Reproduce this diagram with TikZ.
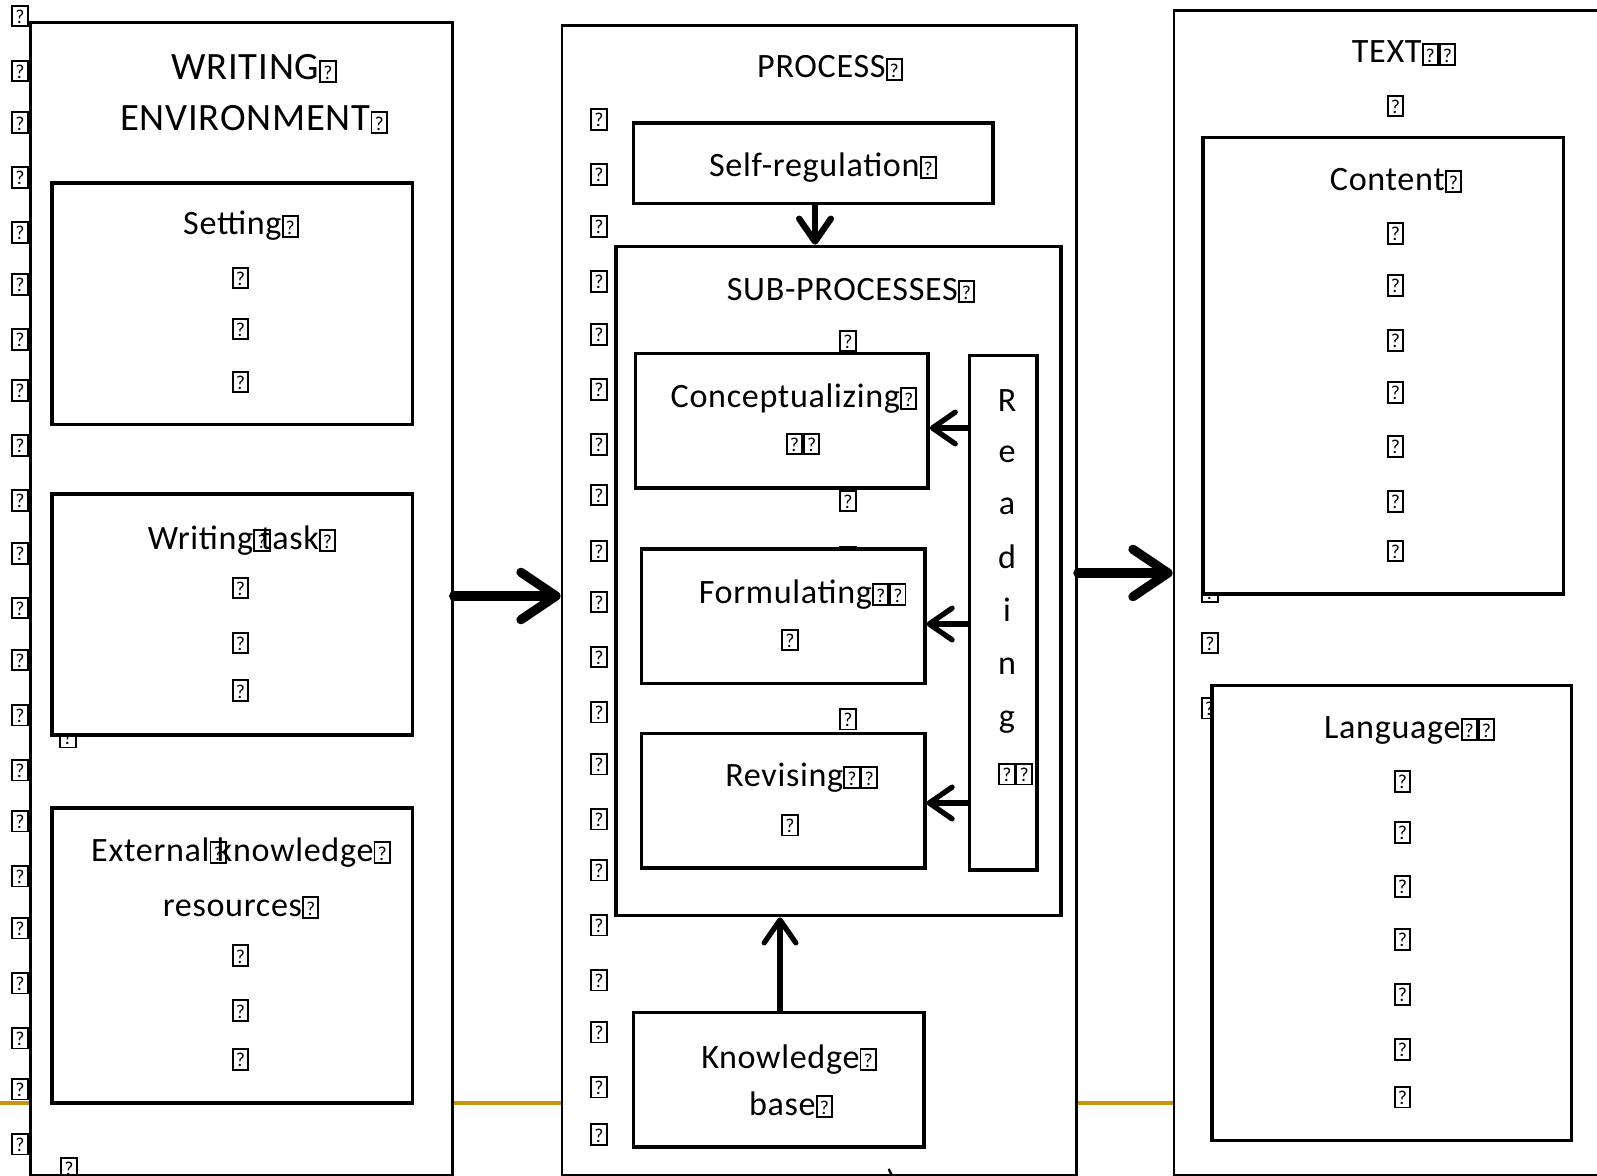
\documentclass[tikz,border=0pt]{standalone}
\usepackage{fontspec}
\setmainfont{Carlito}[LetterSpace=2]
\usetikzlibrary{arrows.meta,fit}
\definecolor{gold}{RGB}{200,150,10}
\newcommand\qb{\raisebox{-0.4pt}{\setlength{\fboxsep}{0pt}\setlength{\fboxrule}{0.55pt}\fbox{\makebox[3.8pt][c]{\rule{0pt}{5.4pt}\raisebox{0.5pt}{\fontsize{5.6}{5.6}\selectfont ?}}}}}
\begin{document}
\begin{tikzpicture}[x=0.01cm,y=-0.01cm,
  outerbox/.style={draw, line width=0.8pt, fill=white, inner sep=0pt},
  box/.style={draw, line width=1pt, fill=white, inner sep=0pt},
  lbl/.style={font=\fontsize{9.7}{11}\selectfont, inner sep=0pt, anchor=base},
  biglbl/.style={font=\fontsize{11}{13}\selectfont, inner sep=0pt, anchor=base},
  qm/.style={inner sep=0pt, anchor=center},
  bigarrow/.style={line width=2.6pt, line cap=round, -{Straight Barb[length=10pt,width=13.5pt,round]}},
  midarrow/.style={line width=1.8pt, line cap=round, -{Straight Barb[length=6.5pt,width=9pt,round]}},
  smallarrow/.style={line width=1.5pt, line cap=round, -{Straight Barb[length=6.5pt,width=9pt,round]}},
]
\useasboundingbox (0,0) rectangle (1597,1176);
\fill[white] (0,0) rectangle (1597,1176);
\coordinate (gl) at (0,1103);
\coordinate (gr) at (1597,1103);
\draw[gold, line width=1.4pt] (gl) -- (gr);

% outer boxes
\node[outerbox, fit={(30.6,22.4) (452.2,1175)}] (we) {};
\node[outerbox, fit={(562,25.5) (1076.5,1175)}] (proc) {};
\node[outerbox, fit={(1174,10.5) (1605,1175)}] (txt) {};

% left column of placeholders
\foreach \yy [count=\i] in {16,71,122.5,177.2,232.2,284.2,339.2,390.1,445.1,500.1,553.1,608,660,715,770,821,876,928,983,1038,1089,1144}
  \node[qm] (lq\i) at (20,\yy) {\qb};

% ---- writing environment ----
\node[biglbl] (weA) at (254,80) {WRITING\qb};
\node[biglbl] (weB) at (254,131) {ENVIRONMENT\qb};
\node[box, fit={(52,183) (412.5,424.7)}] (setting) {};
\node[lbl] (setT) at (241,235) {Setting\qb};
\foreach \yy [count=\i] in {278,329,382}
  \node[qm] (sq\i) at (240.4,\yy) {\qb};
\node[qm] (wpart) at (68,737) {\qb};
\node[box, fit={(52,494) (412.5,735)}] (wtask) {};
\node[lbl] (wtT) at (242,549) {Writing\qb\kern-2.8pt task\qb};
\foreach \yy [count=\i] in {588,643,690.5}
  \node[qm] (wq\i) at (240.4,\yy) {\qb};
\node[box, fit={(52,808) (412.5,1103)}] (ext) {};
\node[lbl] (exA) at (241,861) {External\qb\kern-2.8pt knowledge\qb};
\node[lbl] (exB) at (241,916) {resources\qb};
\foreach \yy [count=\i] in {955.4,1010.3,1059.2}
  \node[qm] (eq\i) at (240.4,\yy) {\qb};
\node[qm] (wbot) at (69,1168) {\qb};

% ---- process ----
\node[lbl] (procT) at (830,78) {PROCESS\qb};
\foreach \yy [count=\i] in {119.2,174.2,226.1,281.1,334.1,389.1,444.1,495,551,602,657,712,764,819,870,925,980,1032,1087,1134.6}
  \node[qm] (mq\i) at (599,\yy) {\qb};
\node[box, fit={(633.5,123) (993,203.7)}] (selfreg) {};
\node[lbl] (srT) at (823,176) {Self-regulation\qb};
\node[box, fit={(616,246.5) (1061,915.6)}] (sub) {};
\node[lbl] (subT) at (851,300) {SUB-PROCESSES\qb};
\node[qm] (sub1) at (848,341) {\qb};
\node[qm] (sub2) at (848,501) {\qb};
\node[qm] (subh) at (848,557) {\qb};
\node[qm] (sub3) at (848,719) {\qb};
\node[box, fit={(635.5,353.4) (928,488)}] (concept) {};
\node[lbl] (coT) at (794,407) {Conceptualizing\qb};
\node[qm] (coQ) at (803,444) {\qb\qb};
\node[box, fit={(641.7,549) (924.8,683.4)}] (formul) {};
\node[lbl] (foT) at (802.6,603) {Formulating\qb\qb};
\node[qm] (foQ) at (790,640) {\qb};
\node[box, fit={(641.7,733.3) (924.8,867.8)}] (revis) {};
\node[lbl] (reT) at (801.5,786) {Revising\qb\qb};
\node[qm] (reQ) at (790,825) {\qb};
\node[box, fit={(969.6,355.5) (1036.8,869.8)}] (reading) {};
\foreach \ch/\yy [count=\i] in {R/411,e/462,a/514,d/568,i/621,n/674,g/727}
  \node[lbl] (rd\i) at (1007,\yy) {\ch};
\node[qm] (rdQ) at (1015.5,774) {\qb\qb};
\draw[midarrow] (selfreg.south -| 815,0) -- (sub.north -| 815,0);
\draw[smallarrow] (reading.west |- 0,428) -- (concept.east |- 0,428);
\draw[smallarrow] (reading.west |- 0,624) -- (formul.east |- 0,624);
\draw[smallarrow] (reading.west |- 0,803) -- (revis.east |- 0,803);
\node[box, fit={(633.5,1012.4) (923.8,1146.8)}] (kb) {};
\node[lbl] (kbA) at (789,1068) {Knowledge\qb};
\node[lbl] (kbB) at (791,1115) {base\qb};
\draw[smallarrow] (kb.north -| 780,0) -- (sub.south -| 780,0);
\node[qm] (frag) at (880,1184) {\qb\,)};

% ---- text ----
\node[lbl] (txT) at (1404,63) {TEXT\qb\qb};
\node[qm] (txQ) at (1395.5,106) {\qb};
\node[qm] (cpart) at (1210,592) {\qb};
\node[box, fit={(1203,137.5) (1563.4,593.8)}] (content) {};
\node[lbl] (ctT) at (1396,190) {Content\qb};
\foreach \yy [count=\i] in {233.2,285.2,340.2,392.1,446.1,501.1,551}
  \node[qm] (cq\i) at (1395.5,\yy) {\qb};
\node[qm] (tq2) at (1210,643) {\qb};
\node[qm] (lpart) at (1209.5,708) {\qb};
\node[box, fit={(1212,685.5) (1571.6,1140.7)}] (lang) {};
\node[lbl] (lgT) at (1409.6,738) {Language\qb\qb};
\foreach \yy [count=\i] in {781.2,832.1,886.1,939.1,994.1,1049.1,1097}
  \node[qm] (lq\i b) at (1402.5,\yy) {\qb};

% main arrows
\draw[bigarrow] (we.east |- 0,596) -- (proc.west |- 0,596);
\draw[bigarrow] (proc.east |- 0,573) -- (txt.west |- 0,573);
\end{tikzpicture}
\end{document}
